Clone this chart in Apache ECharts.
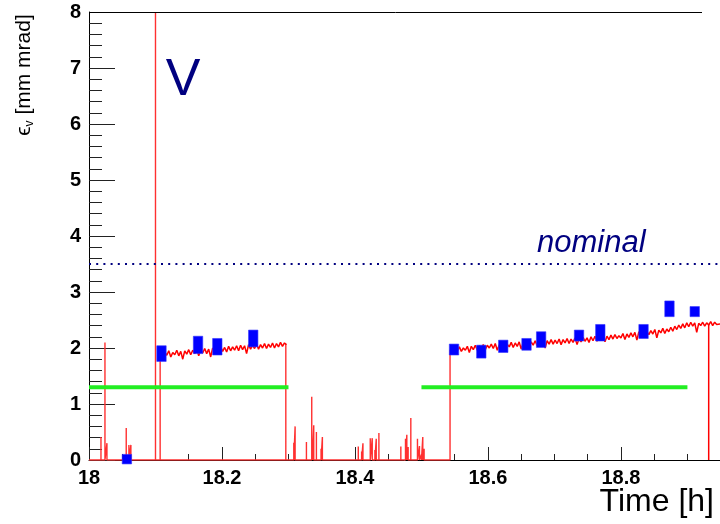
<!DOCTYPE html>
<html>
<head>
<meta charset="utf-8">
<script src="https://cdn.jsdelivr.net/npm/echarts@6/dist/echarts.min.js"></script>
<style>html,body{margin:0;padding:0;background:#fff;}#c{width:720px;height:524px;}</style>
</head>
<body>
<div id="c"></div>
<script>
// ---- data ----
var xTicks = [18, 18.2, 18.4, 18.6, 18.8];
var yTicks = [0, 1, 2, 3, 4, 5, 6, 7, 8];
// red trace at zero between the measured periods
var baseStart = 18.0, baseEnd = 18.543;
// vertical red spikes along the zero trace: [time, height]
var spikes = [
  [18.018, 0.41], [18.024, 2.10], [18.027, 0.30],
  [18.056, 0.57], [18.060, 0.27], [18.063, 0.27],
  [18.100, 8.00], [18.107, 1.90], [18.296, 2.07],
  [18.308, 0.31], [18.310, 0.60], [18.327, 0.32], [18.335, 1.13], [18.336, 0.30],
  [18.338, 0.62], [18.342, 0.50], [18.349, 0.20], [18.351, 0.41],
  [18.405, 0.24], [18.410, 0.15], [18.412, 0.30], [18.423, 0.39], [18.426, 0.39],
  [18.430, 0.18], [18.432, 0.38], [18.436, 0.48],
  [18.469, 0.24], [18.476, 0.38], [18.478, 0.45], [18.480, 0.23], [18.484, 0.75],
  [18.494, 0.38], [18.497, 0.25], [18.500, 0.10], [18.502, 0.41], [18.504, 0.20],
  [18.543, 1.97]
];
// drop to zero near the end: [time, height]
var dropSpike = [18.932, 2.43];
// first measured segment
var seg1Start = 18.108, seg1Step = 0.003;
var seg1Values = [
  1.92,1.85,1.93,1.87,1.95,1.84,1.92,1.88,1.96,1.86,
  1.94,1.80,1.95,1.89,1.97,1.88,1.96,1.90,1.98,1.86,
  1.97,1.91,1.99,1.90,1.98,1.84,2.00,1.93,2.01,1.92,
  2.02,1.94,2.01,1.93,2.03,1.95,2.02,1.96,2.04,1.95,
  2.05,1.97,2.04,1.90,2.06,1.98,2.05,1.99,2.07,1.98,
  2.06,2.00,2.08,1.99,2.07,2.01,2.09,2.00,2.08,2.02,
  2.10,2.03,2.09,2.06
];
// second measured segment
var seg2Start = 18.545, seg2Step = 0.003;
var seg2Values = [
  1.99,1.93,2.01,1.95,2.02,1.94,2.00,1.96,2.03,1.92,
  2.03,1.97,2.05,1.96,2.04,1.99,2.06,1.97,2.05,2.00,
  2.07,1.99,2.08,1.96,2.06,2.01,2.09,2.00,2.07,2.02,
  2.10,2.01,2.09,2.03,2.11,1.98,2.10,2.04,2.12,2.03,
  2.11,2.05,2.13,2.04,2.12,2.06,2.14,2.00,2.13,2.07,
  2.15,2.07,2.14,2.08,2.16,2.06,2.15,2.09,2.17,2.08,
  2.16,2.10,2.18,2.06,2.17,2.11,2.19,2.12,2.18,2.10,
  2.20,2.13,2.21,2.12,2.19,2.14,2.22,2.11,2.21,2.15,
  2.23,2.16,2.24,2.17,2.22,2.18,2.26,2.15,2.25,2.19,
  2.27,2.20,2.28,2.14,2.29,2.22,2.30,2.21,2.29,2.24,
  2.31,2.25,2.33,2.18,2.32,2.27,2.35,2.26,2.34,2.29,
  2.37,2.30,2.39,2.33,2.41,2.35,2.43,2.36,2.45,2.38,
  2.46,2.39,2.45,2.28,2.44,2.40,2.46,2.39,2.45,2.41,
  2.47,2.40,2.46,2.42,2.45,2.43
];
// blue measurements: [time, low, high]
var bluePoints = [
  [18.057, -0.07, 0.10],
  [18.109, 1.76, 2.04], [18.164, 1.90, 2.21], [18.193, 1.875, 2.17], [18.247, 2.02, 2.32],
  [18.549, 1.875, 2.07], [18.590, 1.82, 2.05], [18.623, 1.92, 2.14], [18.658, 1.96, 2.17],
  [18.680, 2.01, 2.29], [18.737, 2.125, 2.32], [18.769, 2.125, 2.42], [18.834, 2.17, 2.42],
  [18.873, 2.56, 2.84], [18.911, 2.56, 2.74]
];
// green reference levels: [start, end, level]
var greenLevels = [[18.0, 18.3, 1.3], [18.5, 18.9, 1.3]];
var nominalLevel = 3.5;
var xMin = 18.0, xMax = 18.949;

// ---- build ----
function seg(start, step, vals) {
  return vals.map(function (v, i) { return [+(start + i * step).toFixed(4), v]; });
}
function zeroTrace() {
  var d = [[baseStart, 0]];
  spikes.forEach(function (s) { d.push([s[0], 0], [s[0], s[1]], [s[0], 0]); });
  d.push([baseEnd, 0]);
  return d;
}
var FONT = '"Liberation Sans", Arial, sans-serif';
var chart = echarts.init(document.getElementById('c'), null, {renderer: 'canvas'});
var option = {
  animation: false,
  backgroundColor: '#fff',
  grid: {left: 89, top: 12, right: 0, bottom: 64, containLabel: false},
  xAxis: {
    type: 'value', min: xMin, max: xMax, interval: 0.2,
    axisLine: {show: true, lineStyle: {color: '#000', width: 1}},
    axisTick: {show: true, inside: true, length: 13, lineStyle: {color: '#222', width: 1}},
    minorTick: {show: true, splitNumber: 4, length: 6, lineStyle: {color: '#222', width: 1}},
    splitLine: {show: false},
    axisLabel: {
      show: true, margin: 8, color: '#000', fontFamily: FONT, fontWeight: 'bold', fontSize: 20,
      showMaxLabel: false,
      formatter: function (v) {
        var r = Math.round(v * 10) / 10;
        return xTicks.indexOf(r) >= 0 ? String(r) : '';
      }
    }
  },
  yAxis: {
    type: 'value', min: 0, max: 8, interval: 1,
    axisLine: {show: true, lineStyle: {color: '#000', width: 1}},
    axisTick: {show: true, inside: true, length: 26, lineStyle: {color: '#222', width: 1}},
    minorTick: {show: true, splitNumber: 5, length: 13, lineStyle: {color: '#222', width: 1}},
    splitLine: {show: false},
    axisLabel: {
      show: true, margin: 8, color: '#000', fontFamily: FONT, fontWeight: 'bold', fontSize: 20,
      formatter: function (v) { return yTicks.indexOf(v) >= 0 ? String(v) : ''; }
    }
  },
  series: [
    {
      type: 'line', data: zeroTrace(), symbol: 'none', clip: true,
      lineStyle: {color: '#ff3030', width: 1.4}, z: 3
    },
    {
      type: 'line', data: [[dropSpike[0], 0], [dropSpike[0], dropSpike[1]]], symbol: 'none',
      lineStyle: {color: '#ff0000', width: 1.5}, z: 3
    },
    {
      type: 'line', data: seg(seg1Start, seg1Step, seg1Values), symbol: 'none',
      lineStyle: {color: '#ff0000', width: 1.5}, z: 3
    },
    {
      type: 'line', data: seg(seg2Start, seg2Step, seg2Values), symbol: 'none',
      lineStyle: {color: '#ff0000', width: 1.5}, z: 3
    },
    {
      type: 'custom', data: greenLevels, z: 4,
      renderItem: function (params, api) {
        var p0 = api.coord([api.value(0), api.value(2)]);
        var p1 = api.coord([api.value(1), api.value(2)]);
        return {type: 'line', shape: {x1: p0[0], y1: p0[1], x2: p1[0], y2: p1[1]},
                style: {stroke: '#22ee22', lineWidth: 4}};
      }
    },
    {
      type: 'line', data: [[xMin, nominalLevel], [xMax, nominalLevel]], symbol: 'none',
      lineStyle: {color: '#000080', width: 2, type: [2, 5.2]}, z: 4
    },
    {
      type: 'custom', data: bluePoints, clip: false, z: 5,
      renderItem: function (params, api) {
        var pTop = api.coord([api.value(0), api.value(2)]);
        var pBot = api.coord([api.value(0), api.value(1)]);
        return {type: 'rect', shape: {x: pTop[0] - 4.7, y: pTop[1], width: 9.4, height: pBot[1] - pTop[1]},
                style: {fill: '#0000ff', stroke: '#3333ff', lineWidth: 0.6}};
      }
    }
  ],
  graphic: [
    {type: 'line', shape: {x1: 89, y1: 12.5, x2: 702, y2: 12.5}, style: {stroke: '#000', lineWidth: 1}, z: 10},
    {type: 'text', x: 183, y: 81, z: 10,
     style: {text: 'V', fill: '#000080', font: '52px ' + FONT, align: 'center', verticalAlign: 'middle'}},
    {type: 'text', x: 537, y: 243, z: 10,
     style: {text: 'nominal', fill: '#000080', font: 'italic 31px ' + FONT, align: 'left', verticalAlign: 'middle'}},
    {type: 'text', x: 714, y: 502, z: 10,
     style: {text: 'Time [h]', fill: '#000', font: '32px ' + FONT, align: 'right', verticalAlign: 'middle'}},
    {type: 'text', x: 24, y: 75, rotation: Math.PI / 2, z: 10,
     style: {
       text: '{e|ϵ}{s|v}{n| [mm mrad]}', align: 'center', verticalAlign: 'middle', fill: '#000',
       rich: {
         e: {fontFamily: FONT, fontSize: 21, fill: '#000', lineHeight: 24, verticalAlign: 'middle'},
         s: {fontFamily: FONT, fontSize: 12, fill: '#000', lineHeight: 24, verticalAlign: 'bottom'},
         n: {fontFamily: FONT, fontSize: 21, fill: '#000', lineHeight: 24, verticalAlign: 'middle'}
       }
     }}
  ]
};
chart.setOption(option);
</script>
</body>
</html>
